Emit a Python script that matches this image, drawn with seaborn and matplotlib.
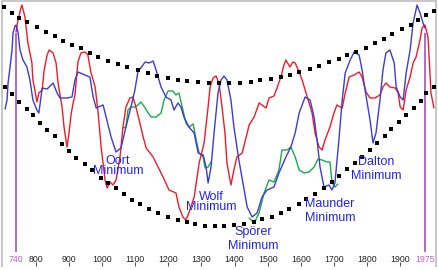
import pandas as pd
import seaborn as sns
import matplotlib.pyplot as plt

# red series (relative units)
red_years = [740, 746, 755, 758, 767, 776, 788, 791, 797, 803, 809, 819, 825, 834, 840, 852, 861, 867,
             879, 885, 894, 900, 906, 912, 918, 927, 936, 948, 957, 966, 979, 988, 997, 1009, 1015, 1024,
             1033, 1042, 1054, 1063, 1072, 1084, 1093, 1102, 1114, 1124, 1133, 1154, 1169, 1184, 1202,
             1223, 1232, 1244, 1253, 1262, 1278, 1293, 1308, 1320, 1326, 1335, 1344, 1353, 1362, 1371,
             1377, 1389, 1398, 1407, 1423, 1435, 1444, 1459, 1474, 1483, 1495, 1504, 1519, 1528, 1540,
             1549, 1555, 1567, 1576, 1583, 1595, 1604, 1613, 1625, 1634, 1643, 1655, 1664, 1673, 1688,
             1700, 1709, 1725, 1734, 1746, 1761, 1776, 1785, 1797, 1809, 1824, 1839, 1848, 1857, 1869,
             1885, 1894, 1900, 1909, 1918, 1930, 1939, 1948, 1960, 1966, 1975, 1984, 1990, 1993, 2002]
red_vals = [218, 230, 242, 245, 233, 207, 187, 170, 160, 148, 157, 160, 180, 195, 200, 197, 187, 167,
            143, 123, 103, 117, 135, 146, 155, 188, 197, 198, 195, 178, 163, 137, 103, 70, 62, 68,
            65, 70, 93, 123, 143, 152, 153, 143, 127, 113, 102, 93, 83, 73, 60,
            57, 43, 33, 30, 37, 53, 87, 107, 143, 163, 172, 174, 167, 143, 117,
            87, 65, 80, 93, 97, 113, 125, 133, 147, 145, 142, 152, 154, 162, 173,
            185, 190, 183, 188, 187, 178, 170, 160, 147, 137, 117, 103, 100, 110, 123,
            137, 145, 142, 157, 173, 175, 178, 173, 158, 152, 152, 155, 163, 167, 163,
            162, 157, 143, 140, 160, 173, 187, 193, 210, 222, 225, 213, 177, 157, 142]

# blue series
blue_years = [707, 713, 716, 722, 728, 731, 737, 740, 746, 752, 761, 773, 782, 791, 803, 809, 819, 834,
              852, 864, 873, 894, 909, 918, 927, 948, 963, 973, 982, 1003, 1012, 1027, 1042, 1057,
              1072, 1087, 1099, 1108, 1130, 1142, 1154, 1163, 1178, 1193, 1208, 1217, 1229, 1238,
              1247, 1262, 1278, 1290, 1305, 1314, 1320, 1329, 1338, 1350, 1359, 1368, 1377, 1389,
              1398, 1413, 1429, 1438, 1453, 1468, 1483, 1498, 1519, 1534, 1555, 1570, 1583, 1595,
              1613, 1628, 1640, 1649, 1658, 1670, 1685, 1694, 1703, 1715, 1725, 1734, 1749, 1761,
              1776, 1785, 1794, 1809, 1818, 1827, 1839, 1848, 1857, 1869, 1882, 1888, 1900, 1909,
              1918, 1930, 1939, 1951, 1960, 1969, 1975]
blue_vals = [141, 150, 167, 183, 200, 217, 224, 225, 218, 200, 190, 183, 170, 150, 140, 137, 162, 161,
             167, 157, 152, 152, 153, 170, 178, 175, 173, 153, 142, 145, 133, 113, 98, 102,
             123, 143, 160, 178, 188, 187, 189, 180, 163, 153, 150, 140, 147, 143,
             133, 123, 117, 97, 95, 83, 67, 83, 117, 157, 170, 174, 170, 150,
             123, 90, 60, 43, 33, 37, 53, 60, 63, 77, 93, 103, 117, 137,
             153, 150, 133, 110, 83, 63, 65, 60, 67, 110, 150, 177, 190, 198,
             195, 180, 160, 130, 107, 117, 150, 180, 197, 200, 187, 163, 153, 150,
             177, 200, 227, 245, 237, 227, 222]

# green series, two stretches
green_years_a = [1063, 1072, 1078, 1087, 1099, 1108, 1117, 1130, 1139, 1148, 1163, 1178, 1187, 1199,
                 1214, 1223, 1232, 1244, 1253, 1262, 1275, 1284, 1293, 1305, 1311, 1320, 1329]
green_vals_a = [122, 123, 140, 143, 143, 145, 148, 142, 137, 133, 133, 137, 150, 159,
                159, 155, 157, 140, 127, 123, 126, 110, 97, 93, 82, 83, 88]
green_years_b = [1444, 1459, 1474, 1489, 1504, 1519, 1534, 1543, 1558, 1570, 1583, 1595, 1610, 1625,
                 1640, 1652, 1664, 1679, 1688, 1694, 1703, 1712]
green_vals_b = [32, 27, 37, 57, 70, 68, 80, 100, 100, 103, 93, 80, 77, 78,
                83, 91, 90, 88, 88, 68, 63, 66]

# dotted envelopes
upper_years = [704, 728, 749, 773, 803, 831, 858, 882, 909, 936, 963, 988, 1018, 1048, 1075, 1108,
               1139, 1166, 1199, 1229, 1256, 1290, 1323, 1353, 1383, 1416, 1450, 1477, 1510, 1540,
               1567, 1595, 1628, 1655, 1685, 1715, 1740, 1767, 1797, 1824, 1851, 1876, 1906, 1933,
               1954, 1978, 2002]
upper_vals = [243, 237, 232, 228, 223, 218, 214, 209, 205, 202, 197, 193, 189, 186, 183, 180,
              177, 174, 172, 170, 169, 168, 167, 167, 167, 167, 168, 170, 171, 173,
              175, 178, 181, 184, 188, 191, 195, 198, 202, 207, 211, 216, 221, 225,
              230, 235, 239]
lower_years = [707, 728, 749, 773, 791, 812, 834, 858, 879, 900, 921, 948, 970, 997, 1018, 1042,
               1066, 1090, 1114, 1142, 1169, 1199, 1229, 1256, 1281, 1311, 1341, 1368, 1398, 1429,
               1459, 1483, 1513, 1540, 1564, 1595, 1616, 1643, 1670, 1694, 1715, 1740, 1764, 1785,
               1809, 1830, 1854, 1872, 1897, 1918, 1942, 1963, 1978, 2002]
lower_vals = [163, 156, 148, 141, 135, 127, 120, 114, 106, 99, 92, 86, 80, 72, 67, 62,
              56, 50, 46, 41, 37, 33, 30, 28, 26, 24, 24, 24, 25, 26,
              28, 31, 33, 37, 41, 46, 51, 56, 62, 68, 74, 81, 87, 93,
              100, 107, 114, 121, 128, 135, 142, 149, 157, 163]

marker_years = [740, 1975]
tick_years = [740, 800, 900, 1000, 1100, 1200, 1300, 1400, 1500, 1600, 1700, 1800, 1900, 1975]

minima_names = ["Oort\nMinimum", "Wolf\nMinimum", "Spörer\nMinimum", "Maunder\nMinimum", "Dalton\nMinimum"]
minima_years = [1048, 1329, 1456, 1688, 1827]
minima_vals = [84, 48, 11, 39, 81]
minima_spacing = [0.85, 0.85, 1.15, 1.2, 1.15]

sns.set_theme(style="white")
plt.rcParams['font.family'] = ['Liberation Sans', 'DejaVu Sans']

fig = plt.figure(figsize=(4.38, 2.70), dpi=100)
ax = fig.add_axes([2 / 438, 4 / 270, 434 / 438, 265 / 270])

ax.vlines(marker_years, -2, 217, color='#a040b0', lw=1.1, zorder=1)

sns.lineplot(x=green_years_a, y=green_vals_a, color='#1fa84a', lw=1.0, ax=ax, zorder=2)
sns.lineplot(x=green_years_b, y=green_vals_b, color='#1fa84a', lw=1.0, ax=ax, zorder=2)
sns.lineplot(x=red_years, y=red_vals, color='#ee1c2a', lw=1.0, ax=ax, zorder=3)
sns.lineplot(x=blue_years, y=blue_vals, color='#3c3cd0', lw=1.0, ax=ax, zorder=4)

sns.scatterplot(x=upper_years, y=upper_vals, marker='s', s=5, color='black', linewidth=0, ax=ax, zorder=5)
sns.scatterplot(x=lower_years, y=lower_vals, marker='s', s=5, color='black', linewidth=0, ax=ax, zorder=5)

for name, yr, v, sp in zip(minima_names, minima_years, minima_vals, minima_spacing):
    ax.text(yr, v, name, color='#2323ee', fontsize=9, ha='center', va='center',
            linespacing=sp, zorder=6)

ax.set_xlim(697.7, 2008.2)
ax.set_ylim(-16, 249)
ax.set_yticks([])
ax.set_xticks(tick_years)
ax.set_xticklabels([str(t) for t in tick_years])
ax.tick_params(axis='x', direction='in', length=3, width=0.8, color='#555555',
               pad=-8, labelsize=6.3, labelcolor='#222222', bottom=True)
for t, yr in zip(ax.xaxis.get_major_ticks(), tick_years):
    if yr in marker_years:
        t.tick1line.set_visible(False)
        t.label1.set_color('#c060c8')
ax.set_xlabel('')
ax.set_ylabel('')

ax.spines['bottom'].set_visible(False)
for side in ['left', 'top', 'right']:
    ax.spines[side].set_color('#c8c8c8')
    ax.spines[side].set_linewidth(1.5)

fig.savefig('out.png', dpi=100)
